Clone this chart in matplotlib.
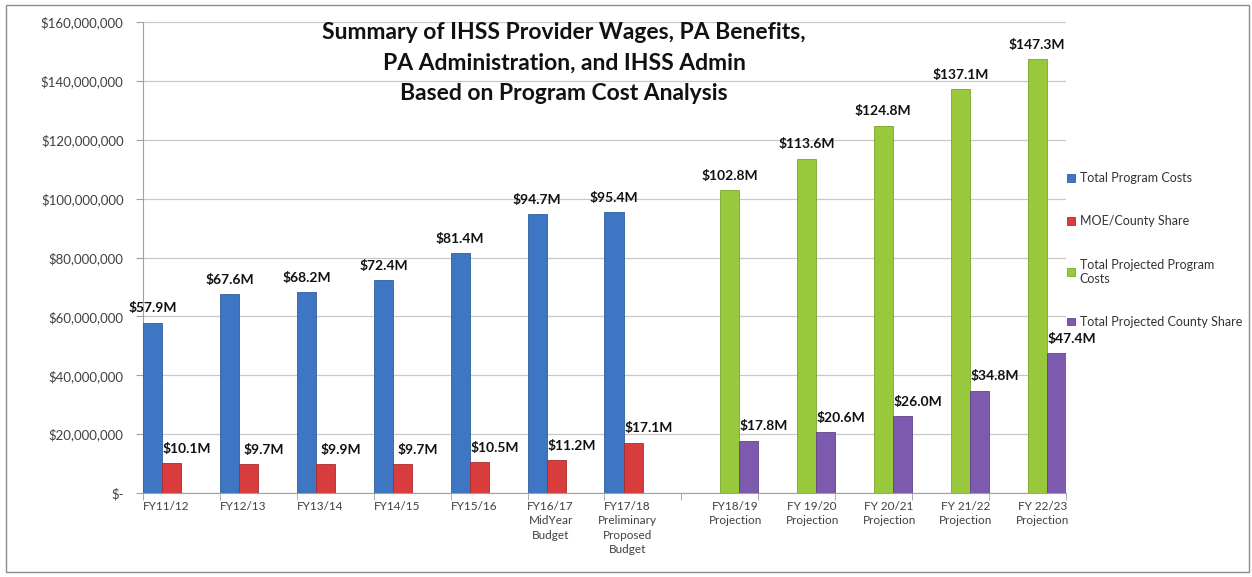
import matplotlib.pyplot as plt
import numpy as np
from matplotlib.patches import Rectangle
from matplotlib.ticker import FuncFormatter, FixedLocator

plt.rcParams['font.family'] = ['Lato', 'DejaVu Sans']

# data (millions of dollars)
categories = ["FY11/12", "FY12/13", "FY13/14", "FY14/15", "FY15/16",
              "FY16/17\nMidYear\nBudget",
              "FY17/18\nPreliminary\nProposed\nBudget",
              "FY18/19\nProjection", "FY 19/20\nProjection", "FY 20/21\nProjection",
              "FY 21/22\nProjection", "FY 22/23\nProjection"]
nan = np.nan
total_costs = [57.9, 67.6, 68.2, 72.4, 81.4, 94.7, 95.4, nan, nan, nan, nan, nan]
moe_share = [10.1, 9.7, 9.9, 9.7, 10.5, 11.2, 17.1, nan, nan, nan, nan, nan]
proj_costs = [nan, nan, nan, nan, nan, nan, nan, 102.8, 113.6, 124.8, 137.1, 147.3]
proj_share = [nan, nan, nan, nan, nan, nan, nan, 17.8, 20.6, 26.0, 34.8, 47.4]

series = [
    ("Total Program Costs", total_costs, "#3F76C4", "#2F5F9E"),
    ("MOE/County Share", moe_share, "#D93C3C", "#A82C2C"),
    ("Total Projected Program\nCosts", proj_costs, "#98C93C", "#7AA52C"),
    ("Total Projected County Share", proj_share, "#7D5AAE", "#5E4388"),
]

fig = plt.figure(figsize=(12.52, 5.77), dpi=100)
ax = fig.add_axes([143 / 1252, 84 / 577, 923 / 1252, 471 / 577])

x = np.arange(len(categories))
w = 0.25
for k, (name, vals, col, edge) in enumerate(series):
    vals = np.array(vals)
    ok = ~np.isnan(vals)
    ax.bar(x[ok] + k * w, vals[ok] * 1e6, width=w, align='edge', color=col,
           edgecolor=edge, linewidth=0.6, label=name, zorder=3)
    dx = 11 if k in (1, 3) else 0
    for xi, v in zip(x[ok], vals[ok]):
        ax.annotate(f"${v:.1f}M", xy=(xi + k * w + w / 2, v * 1e6),
                    xytext=(dx, 6), textcoords='offset points',
                    ha='center', va='bottom', fontsize=10, fontweight='bold',
                    color='#111111', zorder=4)

ax.set_xlim(0, len(categories))
ax.set_ylim(0, 160e6)
ax.set_yticks(np.arange(0, 160e6 + 1, 20e6))
ax.yaxis.set_major_formatter(FuncFormatter(lambda v, p: "$-" if v == 0 else f"${v:,.0f}"))

# labels sit under the bars actually drawn in each category
label_pos = [i + (0.3 if not np.isnan(total_costs[i]) else 0.7) for i in x]
ax.set_xticks(label_pos)
ax.set_xticklabels(categories, fontsize=8.5, color='#404040', va='top', linespacing=1.35)
ax.tick_params(axis='x', length=0, pad=6)
ax.xaxis.set_minor_locator(FixedLocator(np.arange(0, len(categories) + 1)))
ax.tick_params(axis='x', which='minor', length=5, color='#A0A0A0')
ax.tick_params(axis='y', length=5, color='#A0A0A0', labelsize=9.5, labelcolor='#404040', pad=9)

ax.grid(axis='y', color='#C8C8C8', linewidth=0.9, zorder=0)
for s in ['top', 'right']:
    ax.spines[s].set_visible(False)
for s in ['left', 'bottom']:
    ax.spines[s].set_color('#A0A0A0')

fig.text(564 / 1252, 1 - 63 / 577,
         "Summary of IHSS Provider Wages, PA Benefits,\nPA Administration, and IHSS Admin\nBased on Program Cost Analysis",
         ha='center', va='center', fontsize=16.5, fontweight='bold', linespacing=1.55,
         color='#111111')

fig.legend(loc='center left', bbox_to_anchor=(1056 / 1252, 1 - 250 / 577),
           frameon=False, fontsize=9, labelcolor='#333333', handlelength=0.6,
           handleheight=0.6, handletextpad=0.4, labelspacing=2.5)

fig.patches.append(Rectangle((6 / 1252, 5 / 577), 1243 / 1252, 567 / 577,
                             transform=fig.transFigure, fill=False,
                             edgecolor='#8C8C8C', linewidth=1))

fig.savefig("out.png", dpi=100)
